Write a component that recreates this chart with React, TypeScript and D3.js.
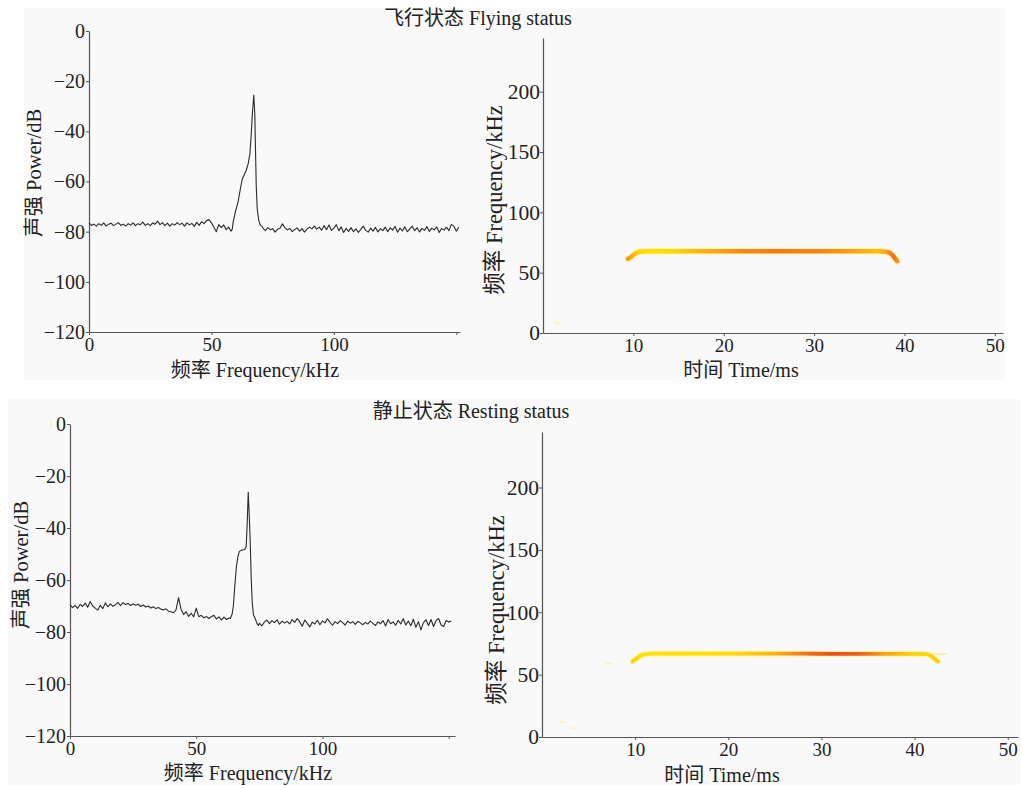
import { useEffect, useRef } from "react";
import * as d3 from "d3";

const W = 1022;
const H = 788;
const FONT = "'Liberation Serif', 'Times New Roman', 'Noto Sans CJK SC', serif";

// power spectrum noise floor, one reading per kHz (0..151 kHz)
const flyNoise = [
  -76.5, -77.5, -77, -77.8, -76.8, -77.5, -76.5, -77.8, -77, -76.6,
  -77.6, -77, -76.4, -77.5, -77, -77.8, -76.8, -77.4, -76.5, -77.6,
  -76.8, -77.2, -76.2, -77.5, -76.8, -77.6, -76.5, -77, -75.8, -77.2,
  -76.4, -77.6, -76.6, -77.8, -76.8, -77.4, -76.4, -77.2, -76.6, -77.8,
  -76.5, -77.3, -76.7, -77.9, -76.3, -77.5, -76, -76.8, -75.6, -75.2,
  -76.5, -78.2, -80, -77.2, -78.4, -77.3, -79.2, -78.2, -79.8, -78,
  -75, -70, -62, -58, -56, -52, -30, -30, -70, -77,
  -78, -78.6, -79.6, -78.4, -79.2, -78.8, -80.2, -79, -78.6, -76.9,
  -78.4, -79.3, -78.7, -80, -79.1, -78.5, -79.8, -78.8, -80.2, -79,
  -78.2, -78.9, -77.8, -79, -78.2, -79.4, -77.6, -79.2, -77.3, -79.5,
  -78.6, -77.2, -79.6, -78.1, -80.3, -78.7, -79.9, -78.4, -80, -78.9,
  -80.3, -79.1, -77.8, -79.5, -80.2, -78.6, -79.8, -78.3, -80.1, -78.8,
  -79.6, -78.2, -80, -78.5, -79.4, -77.9, -80.2, -78.6, -79.7, -78.1,
  -80, -78.9, -77.8, -79.6, -78.4, -80.1, -78.7, -79.5, -78, -79.9,
  -78.6, -79.3, -78.1, -80.3, -78.7, -79.4, -78.2, -79.6, -77.1, -77.8,
  -79.8, -78.2,
];
const flyPeakFreq = [
  58.5, 58.9, 59.8, 60.9, 61.8, 62.6, 63.3, 64.2, 65.0, 65.7,
  66.2, 66.7, 67.3, 67.7, 68.0, 68.3, 68.7, 69.3, 70.0, 70.8,
];
const flyPeakPower = [
  -79, -76, -72, -68, -63, -59, -57.5, -55.5, -53, -49,
  -42, -33, -25.5, -33, -48, -62, -71, -75.5, -77.5, -78,
];

const restNoise = [
  -69.5, -70.6, -69.8, -70.9, -69.4, -70.2, -68.9, -70.5, -68.3, -70,
  -70.8, -71.6, -69.7, -71, -68.8, -70.3, -69.2, -70.1, -69.5, -68.6,
  -69.9, -68.7, -69.4, -69, -69.8, -69.2, -69.7, -69.3, -70.2, -69.6,
  -70.4, -70, -70.8, -70.3, -71, -70.6, -71.2, -71.5, -71.1, -72,
  -72.2, -72.6, -71.5, -66.8, -71.3, -73.3, -72.2, -74, -72.8, -74.2,
  -70.8, -74.1, -73.6, -74.6, -74, -74.8, -74.1, -73.6, -75, -74.2,
  -75.4, -74.3, -75.2, -74.6, -70, -55, -49, -48, -48, -47,
  -30, -40, -70, -75, -77, -76.6, -77.6, -76.2, -75.4, -76.8,
  -75.6, -76.4, -75.3, -77, -75.8, -76.6, -75.9, -76.9, -75.2, -76.3,
  -74.8, -76.1, -77.8, -75.4, -76.7, -78, -76.2, -76.9, -75.5, -77.2,
  -75.7, -76.5, -74.9, -76.3, -77.4, -76, -76.8, -75.6, -76.4, -77.3,
  -75.8, -76.6, -76, -77.1, -75.9, -76.5, -77.2, -76.3, -76.9, -75.8,
  -76.7, -77.5, -76.1, -76.8, -75.6, -77.7, -75.2, -76.8, -76.1, -77.4,
  -75.5, -76.9, -74.9, -77.3, -75.8, -77.6, -75.1, -78.2, -76, -79.2,
  -76.4, -75.3, -77.5, -75.2, -77.9, -75.6, -74.8, -77.3, -77.9, -75.6,
  -76.2, -75.8,
];
const restPeakFreq = [
  63.5, 64.2, 64.7, 65.3, 65.9, 66.5, 67.1, 67.8, 68.6, 69.3,
  69.8, 70.2, 70.6, 71.0, 71.4, 71.8, 72.2, 72.7, 73.4, 74.1, 74.6,
];
const restPeakPower = [
  -74.8, -73.2, -70, -62, -55, -51, -49, -48.6, -48.4, -48.2,
  -47, -38, -26.3, -35, -46, -60, -69, -73.5, -75, -76.8, -77.5,
];

// spectrogram call contour: time (ms), frequency (kHz), relative energy (0..1)
const flyTime = [9.4, 9.8, 10.2, 10.7, 11.5, 14, 18, 22, 26, 30, 34, 37, 37.9, 38.4, 38.8, 39.2];
const flyCallFreq = [61.5, 63.2, 65.8, 67.4, 67.8, 67.8, 67.8, 67.8, 67.8, 67.8, 67.8, 67.7, 67.3, 66.2, 63.5, 59.5];
const flyLevel = [0.5, 0.45, 0.3, 0.15, 0.08, 0.12, 0.42, 0.58, 0.64, 0.62, 0.5, 0.35, 0.45, 0.62, 0.72, 0.55];
// faint isolated energy spots [time, freq]
const flySpots = [[1.6, 8]];

const restTime = [9.7, 10.1, 10.5, 11, 12, 15, 20, 25, 28, 31, 34, 37, 40, 41.2, 41.7, 42.1, 42.5];
const restCallFreq = [60.5, 62.5, 64.8, 66.2, 66.8, 66.8, 66.8, 66.8, 66.8, 66.7, 66.7, 66.7, 66.6, 66.4, 65.3, 63, 60.5];
const restLevel = [0.2, 0.15, 0.1, 0.08, 0.05, 0.08, 0.12, 0.4, 0.66, 0.88, 0.78, 0.45, 0.2, 0.15, 0.2, 0.25, 0.2];
const restSpots = [[7.2, 59], [2.2, 12], [3.4, 7]];
const restTail = [[41.6, 66.5], [43.4, 66.5]];

const powerTicks = [0, -20, -40, -60, -80, -100, -120];
const freqTicks = [0, 50, 100, 150];
const freqTickLabels = ["0", "50", "100", ""];
const callFreqTicks = [0, 50, 100, 150, 200];
const timeTicks = [10, 20, 30, 40, 50];

const energyColor = d3
  .scaleLinear<string>()
  .domain([0, 0.35, 0.65, 1])
  .range(["#ffe800", "#fbbf10", "#f07a1c", "#e3381a"]);

const spectrum = (noise: number[], pf: number[], pp: number[]) => {
  const lo = pf[0];
  const hi = pf[pf.length - 1];
  const pts: [number, number][] = [];
  noise.forEach((v, f) => {
    if (f < lo) pts.push([f, v]);
  });
  pf.forEach((f, i) => pts.push([f, pp[i]]));
  noise.forEach((v, f) => {
    if (f > hi) pts.push([f, v]);
  });
  return pts;
};

const panels = [
  {
    id: "fly",
    title: "飞行状态 Flying status",
    titlePos: [478, 25],
    bg: [24, 8, 1005, 380],
    spec: spectrum(flyNoise, flyPeakFreq, flyPeakPower),
    specX: [89, 460, 151.5],
    specY: [332, 31],
    specXLabel: [255, 377],
    specYLabel: [34, 173],
    time: flyTime,
    callFreq: flyCallFreq,
    level: flyLevel,
    spots: flySpots,
    tail: null as number[][] | null,
    callWidth: 4.5,
    sonoX: [543, 1003, 50.9],
    sonoY: [333, 38],
    sonoXLabel: [741, 377],
    sonoYLabel: [494, 200],
  },
  {
    id: "rest",
    title: "静止状态 Resting status",
    titlePos: [471, 418],
    bg: [8, 399, 1020, 785],
    spec: spectrum(restNoise, restPeakFreq, restPeakPower),
    specX: [70, 455, 152.5],
    specY: [736, 424],
    specXLabel: [248, 780],
    specYLabel: [21, 565],
    time: restTime,
    callFreq: restCallFreq,
    level: restLevel,
    spots: restSpots,
    tail: restTail as number[][] | null,
    callWidth: 3.8,
    sonoX: [542, 1018, 51.1],
    sonoY: [737, 432],
    sonoXLabel: [722, 782],
    sonoYLabel: [496, 610],
  },
];

const styleAxis = (g: any, size: number) => {
  g.attr("font-family", FONT).attr("font-size", size);
  g.select(".domain").attr("stroke", "#555").attr("stroke-width", 1.2);
  g.selectAll(".tick line").attr("stroke", "#555");
  g.selectAll(".tick text")
    .attr("fill", "#222")
    .style("font-family", FONT)
    .style("font-size", `${size}px`);
};

const App = () => {
  const svgRef = useRef<SVGSVGElement>(null);

  useEffect(() => {
    const svg = d3.select(svgRef.current);
    svg.selectAll("*").remove();

    svg.append("rect").attr("width", W).attr("height", H).attr("fill", "#ffffff");

    const defs = svg.append("defs");
    defs
      .append("filter")
      .attr("id", "soft")
      .append("feGaussianBlur")
      .attr("stdDeviation", 0.6);

    panels.forEach((p) => {
      const [bx0, by0, bx1, by1] = p.bg;
      svg
        .append("rect")
        .attr("x", bx0)
        .attr("y", by0)
        .attr("width", bx1 - bx0)
        .attr("height", by1 - by0)
        .attr("fill", "#f9f9f9");

      svg
        .append("text")
        .attr("x", p.titlePos[0])
        .attr("y", p.titlePos[1])
        .attr("text-anchor", "middle")
        .attr("font-family", FONT)
        .attr("font-size", 20)
        .attr("fill", "#222")
        .text(p.title);

      // ---- power spectrum
      const x = d3.scaleLinear().domain([0, p.specX[2]]).range([p.specX[0], p.specX[1]]);
      const y = d3.scaleLinear().domain([-120, 0]).range(p.specY);

      svg
        .append("g")
        .attr("transform", `translate(0,${y(-120)})`)
        .call(
          d3
            .axisBottom(x)
            .tickValues(freqTicks)
            .tickSize(3)
            .tickSizeOuter(0)
            .tickPadding(3)
            .tickFormat((d, i) => freqTickLabels[i])
        )
        .call((g) => styleAxis(g, 19));

      svg
        .append("g")
        .attr("transform", `translate(${x(0)},0)`)
        .call(d3.axisLeft(y).tickValues(powerTicks).tickSize(3).tickSizeOuter(0).tickPadding(1))
        .call((g) => styleAxis(g, 20));

      const line = d3
        .line<[number, number]>()
        .x((d) => x(d[0]))
        .y((d) => y(d[1]));

      svg
        .append("path")
        .datum(p.spec)
        .attr("d", line)
        .attr("fill", "none")
        .attr("stroke", "#2a2a2a")
        .attr("stroke-width", 1.1)
        .attr("stroke-linejoin", "round");

      svg
        .append("text")
        .attr("x", p.specXLabel[0])
        .attr("y", p.specXLabel[1])
        .attr("text-anchor", "middle")
        .attr("font-family", FONT)
        .attr("font-size", 20)
        .attr("fill", "#222")
        .text("频率 Frequency/kHz");

      svg
        .append("text")
        .attr("transform", `translate(${p.specYLabel[0]},${p.specYLabel[1]}) rotate(-90)`)
        .attr("text-anchor", "middle")
        .attr("dominant-baseline", "central")
        .attr("font-family", FONT)
        .attr("font-size", 20.5)
        .attr("fill", "#222")
        .text("声强 Power/dB");

      // ---- spectrogram
      const tx = d3.scaleLinear().domain([0, p.sonoX[2]]).range([p.sonoX[0], p.sonoX[1]]);
      const fy = d3.scaleLinear().domain([0, 244.5]).range(p.sonoY);

      svg
        .append("g")
        .attr("transform", `translate(0,${fy(0)})`)
        .call(d3.axisBottom(tx).tickValues(timeTicks).tickSize(3).tickSizeOuter(0).tickPadding(3))
        .call((g) => styleAxis(g, 19));

      svg
        .append("g")
        .attr("transform", `translate(${tx(0)},0)`)
        .call(d3.axisLeft(fy).tickValues(callFreqTicks).tickSize(3).tickSizeOuter(0).tickPadding(0))
        .call((g) => styleAxis(g, 21.5));

      const gx0 = tx(p.time[0]);
      const gx1 = tx(p.time[p.time.length - 1]);
      const grad = defs
        .append("linearGradient")
        .attr("id", `grad-${p.id}`)
        .attr("gradientUnits", "userSpaceOnUse")
        .attr("x1", gx0)
        .attr("x2", gx1)
        .attr("y1", 0)
        .attr("y2", 0);
      p.time.forEach((t, i) => {
        grad
          .append("stop")
          .attr("offset", (tx(t) - gx0) / (gx1 - gx0))
          .attr("stop-color", energyColor(p.level[i]));
      });

      const call = d3
        .line<number>()
        .x((t) => tx(t))
        .y((t, i) => fy(p.callFreq[i]))
        .curve(d3.curveMonotoneX);

      const sono = svg.append("g").attr("filter", "url(#soft)");

      p.spots.forEach((s) => {
        sono
          .append("ellipse")
          .attr("cx", tx(s[0]))
          .attr("cy", fy(s[1]))
          .attr("rx", 4)
          .attr("ry", 1)
          .attr("fill", "#fff080")
          .attr("opacity", 0.6);
      });

      if (p.tail) {
        sono
          .append("path")
          .datum(p.tail)
          .attr("d", d3.line<number[]>().x((d) => tx(d[0])).y((d) => fy(d[1])))
          .attr("stroke", "#fff0a0")
          .attr("stroke-width", 2)
          .attr("fill", "none");
      }

      sono
        .append("path")
        .datum(p.time)
        .attr("d", call)
        .attr("fill", "none")
        .attr("stroke", "#fff2a0")
        .attr("stroke-width", p.callWidth + 2.5)
        .attr("stroke-linecap", "round")
        .attr("opacity", 0.7);

      sono
        .append("path")
        .datum(p.time)
        .attr("d", call)
        .attr("fill", "none")
        .attr("stroke", `url(#grad-${p.id})`)
        .attr("stroke-width", p.callWidth)
        .attr("stroke-linecap", "round");

      svg
        .append("text")
        .attr("x", p.sonoXLabel[0])
        .attr("y", p.sonoXLabel[1])
        .attr("text-anchor", "middle")
        .attr("font-family", FONT)
        .attr("font-size", 20)
        .attr("fill", "#222")
        .text("时间 Time/ms");

      svg
        .append("text")
        .attr("transform", `translate(${p.sonoYLabel[0]},${p.sonoYLabel[1]}) rotate(-90)`)
        .attr("text-anchor", "middle")
        .attr("dominant-baseline", "central")
        .attr("font-family", FONT)
        .attr("font-size", 22.5)
        .attr("fill", "#222")
        .text("频率 Frequency/kHz");
    });
  }, []);

  return (
    <div style={{ position: "absolute", left: 0, top: 0 }}>
      <svg ref={svgRef} width={W} height={H} style={{ display: "block" }}></svg>
    </div>
  );
};

export default App;
